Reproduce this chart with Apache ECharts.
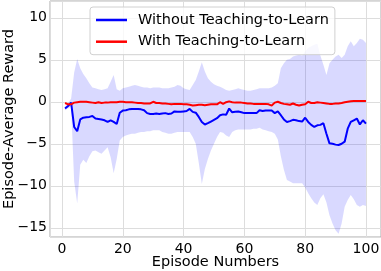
<!DOCTYPE html>
<html>
<head>
<meta charset="utf-8">
<script src="https://cdn.jsdelivr.net/npm/echarts@6/dist/echarts.min.js"></script>
<style>
html,body{margin:0;padding:0;background:#fff;}
#c{width:381px;height:271px;}
</style>
</head>
<body>
<div id="c"></div>
<script>
const episodes = Array.from({length: 100}, (_, i) => i + 1);
const withoutMean = [
 -0.8,-0.5,-0.1,-3.0,-3.5,-2.1,-1.9,-1.85,-1.8,-1.7,
 -2.0,-2.05,-2.1,-2.2,-2.4,-2.2,-2.4,-2.65,-1.3,-1.05,
 -1.0,-0.9,-0.85,-0.85,-0.85,-0.9,-1.0,-1.35,-1.45,-1.45,
 -1.4,-1.45,-1.4,-1.35,-1.45,-1.4,-1.15,-1.2,-1.2,-1.15,
 -1.1,-0.85,-1.2,-1.3,-1.8,-2.4,-2.7,-2.55,-2.35,-2.15,
 -1.95,-1.6,-1.5,-1.55,-0.8,-1.25,-1.2,-1.15,-1.25,-1.35,
 -1.35,-1.35,-1.35,-1.35,-1.0,-1.1,-1.05,-1.05,-1.05,-1.35,
 -1.15,-1.6,-2.1,-2.4,-2.3,-2.15,-2.2,-2.3,-2.35,-1.9,
 -2.4,-2.75,-3.0,-2.8,-2.75,-2.55,-3.8,-4.95,-5.0,-5.1,
 -5.15,-5.0,-4.75,-3.2,-2.4,-2.2,-2.0,-2.7,-2.2,-2.6
];
const withMean = [
 -0.15,-0.3,-0.3,-0.1,-0.05,0,0,0,-0.05,-0.1,
 -0.15,-0.05,-0.15,-0.1,-0.1,-0.05,-0.05,-0.05,0,0,
 -0.05,-0.05,-0.05,-0.1,-0.15,-0.15,-0.2,-0.2,-0.2,0,
 -0.15,-0.15,-0.2,-0.2,-0.25,-0.3,-0.25,-0.25,-0.25,-0.3,
 -0.3,-0.35,-0.45,-0.4,-0.35,-0.35,-0.4,-0.35,-0.3,-0.3,
 -0.3,-0.05,-0.25,-0.05,0.05,-0.05,-0.1,-0.1,-0.1,-0.15,
 -0.2,-0.2,-0.25,-0.25,-0.25,-0.25,-0.25,-0.3,-0.45,-0.1,
 0,-0.15,-0.25,-0.3,-0.35,-0.2,-0.35,-0.45,-0.35,-0.3,
 0,-0.15,-0.15,-0.05,-0.1,-0.15,-0.2,-0.25,-0.25,-0.2,
 -0.2,-0.15,-0.05,0,0.05,0.08,0.08,0.08,0.08,0.08
];
const withoutUpper = [
 -0.6,-0.2,0.4,3.5,5.1,4.0,3.3,2.8,2.2,1.7,
 1.6,1.5,1.4,1.5,1.6,2.4,3.2,1.5,1.3,1.6,
 1.7,1.8,1.9,2.0,1.9,1.8,1.7,1.7,1.6,1.7,
 1.7,1.7,1.6,1.6,1.6,1.7,1.8,2.0,1.9,1.6,
 1.5,1.4,2.0,2.6,3.6,4.7,3.6,2.8,2.4,2.1,
 1.9,1.8,1.6,1.4,1.3,1.4,1.5,1.6,1.5,1.4,
 1.3,1.3,1.4,1.5,1.6,1.6,1.6,1.6,1.7,1.9,
 2.2,4.0,4.6,5.0,5.1,5.4,5.5,5.6,5.5,6.0,
 6.4,6.6,6.8,6.9,5.5,4.4,3.2,4.6,5.0,5.4,
 5.6,5.2,5.6,6.6,7.2,6.6,7.0,7.5,7.4,7.0
];
const withoutLower = [
 -1.0,-0.8,-0.6,-9.5,-12.1,-7.5,-6.9,-7.3,-6.5,-5.9,
 -5.8,-6.0,-6.2,-5.8,-5.4,-6.6,-8.5,-6.8,-4.6,-4.2,
 -4.0,-3.9,-3.8,-3.8,-3.7,-3.6,-3.6,-3.5,-3.5,-3.4,
 -3.4,-3.4,-3.6,-3.7,-3.8,-3.8,-3.7,-3.6,-3.6,-3.6,
 -3.6,-3.6,-4.2,-5.0,-7.3,-9.8,-8.0,-6.8,-5.8,-5.0,
 -4.2,-3.6,-3.7,-4.0,-4.2,-3.6,-3.4,-3.3,-3.3,-3.3,
 -3.3,-3.3,-3.2,-3.2,-3.1,-3.3,-3.4,-3.5,-3.6,-3.8,
 -4.5,-6.5,-8.1,-9.3,-9.5,-9.7,-9.7,-9.7,-9.7,-10.2,
 -10.9,-11.5,-12.0,-12.3,-11.5,-11.0,-12.0,-13.5,-14.5,-15.3,
 -15.7,-14.5,-12.5,-11.7,-11.1,-11.6,-12.3,-12.5,-12.3,-12.4
];
const xTicks = [0, 20, 40, 60, 80, 100];
const yTicks = [-15, -10, -5, 0, 5, 10];
const seriesNames = ['Without Teaching-to-Learn', 'With Teaching-to-Learn'];

const FONT = 'DejaVu Sans';
const fmt = v => String(v).replace('-', '\u2212');
const pair = arr => episodes.map((e, i) => [e, arr[i]]);

const chart = echarts.init(document.getElementById('c'), null, {renderer: 'canvas'});
chart.setOption({
  animation: false,
  backgroundColor: '#ffffff',
  grid: {left: 50, right: 0, top: 1, bottom: 34, containLabel: false, outerBoundsMode: 'none',
         show: true, borderColor: '#aaaaaa', borderWidth: 1, backgroundColor: 'transparent'},
  legend: {
    orient: 'vertical', left: 90, top: 7,
    padding: [5, 6, 5, 6],
    itemGap: 5.7, itemWidth: 31, itemHeight: 2.5,
    backgroundColor: 'rgba(255,255,255,0.8)', borderColor: '#d0d0d0', borderWidth: 1, borderRadius: 3,
    textStyle: {fontFamily: FONT, fontSize: 14.5, color: '#000', lineHeight: 16, padding: [0, 0, 0, 6]},
    data: seriesNames.map(n => ({name: n, icon: 'rect'}))
  },
  xAxis: {
    type: 'value', min: -3.95, max: 104.95, minInterval: 20, maxInterval: 20,
    name: 'Episode Numbers', nameLocation: 'middle', nameGap: 18, nameMoveOverlap: false,
    nameTextStyle: {fontFamily: FONT, fontSize: 14.5, color: '#000'},
    axisLine: {show: false}, axisTick: {show: false},
    axisLabel: {fontFamily: FONT, fontSize: 14, color: '#000', margin: 5, showMinLabel: false, showMaxLabel: false,
      formatter: v => xTicks.includes(v) ? fmt(v) : ''},
    splitLine: {show: true, lineStyle: {color: '#dddddd', width: 1}}
  },
  yAxis: {
    type: 'value', min: -16.1, max: 12, minInterval: 5, maxInterval: 5,
    name: 'Episode-Average Reward', nameLocation: 'middle', nameGap: 33, nameMoveOverlap: false,
    nameTextStyle: {fontFamily: FONT, fontSize: 14.5, color: '#000'},
    axisLine: {show: false}, axisTick: {show: false},
    axisLabel: {fontFamily: FONT, fontSize: 14, color: '#000', margin: 3, showMinLabel: false, showMaxLabel: false,
      formatter: v => yTicks.includes(v) ? fmt(v) : ''},
    splitLine: {show: true, lineStyle: {color: '#dddddd', width: 1}}
  },
  series: [
    {name: 'band', type: 'custom', silent: true, z: 1,
     data: episodes.map((e, i) => [e, withoutLower[i], withoutUpper[i]]),
     encode: {x: 0, y: [1, 2]},
     renderItem: function (params, api) {
       if (params.dataIndex !== 0) return null;
       const pts = [];
       for (let i = 0; i < episodes.length; i++) pts.push(api.coord([episodes[i], withoutUpper[i]]));
       for (let i = episodes.length - 1; i >= 0; i--) pts.push(api.coord([episodes[i], withoutLower[i]]));
       return {type: 'polygon', shape: {points: pts}, style: {fill: 'rgba(0,0,255,0.15)', stroke: null}};
     }},
    {name: seriesNames[0], type: 'line', symbol: 'none', data: pair(withoutMean),
     lineStyle: {color: '#0000ff', width: 2}, itemStyle: {color: '#0000ff'}, z: 3},
    {name: seriesNames[1], type: 'line', symbol: 'none', data: pair(withMean),
     lineStyle: {color: '#ff0000', width: 2}, itemStyle: {color: '#ff0000'}, z: 4}
  ]
});
</script>
</body>
</html>
